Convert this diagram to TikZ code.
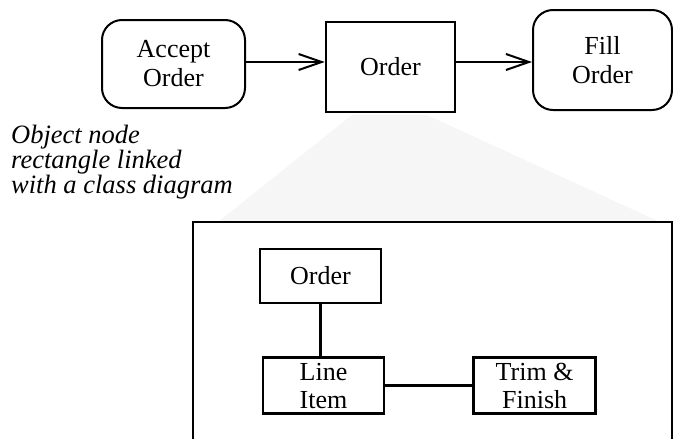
\documentclass[tikz,border=0pt]{standalone}
\usepackage{fontspec}
\setmainfont{Liberation Serif}
\usetikzlibrary{arrows.meta,positioning}
\definecolor{wedge-gray}{rgb}{.965,.965,.965}

\begin{document}
\begin{tikzpicture}[x=1pt, y=-1pt, >={Straight Barb[length=23pt,width=16pt]},
	   font=\fontsize{26}{29}\selectfont,
	   act/.style={draw, line width=2pt, rounded corners=20pt, align=center, inner sep=0pt},
	   obj/.style={draw, line width=2.6pt, align=center, inner sep=0pt, font=\fontsize{26}{28}\selectfont}]
	  \useasboundingbox (0,0) rectangle (673,439);
	  \fill[wedge-gray] (352,115) -- (427,115) -- (660,222) -- (218,222) -- cycle;
	  \node[act, minimum width=143pt, minimum height=88pt] (acc) at (173.5,64) {Accept\\Order};
	  \node[obj, minimum width=129pt, minimum height=90pt] (ord) at (390.5,67) {Order};
	  \node[act, minimum width=139pt, minimum height=100pt] (fill) at (602.5,60) {Fill\\Order};
	  \coordinate (lvl) at (0,62);
	  \draw[->, line width=2pt] (acc.east |- lvl) -- (ord.west |- lvl);
	  \draw[->, line width=2pt] (ord.east |- lvl) -- (fill.west |- lvl);
	  \node[anchor=north west, align=left, inner sep=0pt, font=\itshape\fontsize{26.5}{21}\selectfont] (note) at (11,125)
	    {Object node\\rectangle linked\\with a class diagram};
	  \draw[line width=2.6pt] (193,439) -- (193,222) -- (672,222) -- (672,439);
	  \node[obj, minimum width=121pt, minimum height=54pt] (iord) at (320.5,276) {Order};
	  \node[obj, minimum width=121pt, minimum height=56pt, below=52pt of iord, xshift=3pt] (item) {Line\\Item};
	  \node[obj, minimum width=122pt, minimum height=56pt, right=87pt of item] (trim) {Trim \&\\Finish};
	  \draw[line width=2.6pt] (iord.south) -- (iord.south |- item.north);
	  \draw[line width=2.6pt] (item) -- (trim);
	\end{tikzpicture}
\end{document}
